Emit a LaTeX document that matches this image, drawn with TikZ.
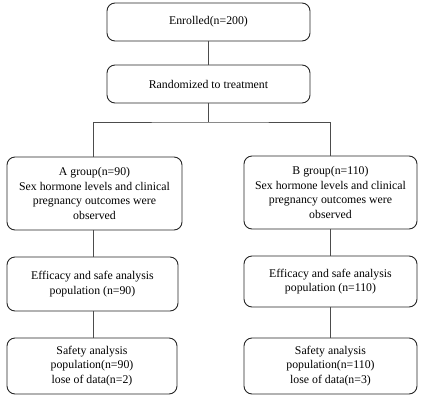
\documentclass[tikz,border=0pt]{standalone}
\usepackage{fontspec}
\setmainfont{Liberation Serif}
\begin{document}
\begin{tikzpicture}[x=1pt,y=-1pt,
  box/.style={draw=black!85, line width=0.9pt, rounded corners=8pt, align=center, inner sep=1pt,
    font=\fontsize{11.8}{14.8}\selectfont, text=black},
  conn/.style={draw=black!70, line width=0.8pt}]
\useasboundingbox (0,0) rectangle (421,400);
\node[box, minimum width=203pt, minimum height=38pt] (enr) at (208.5,22) {Enrolled(n=200)};
\node[box, minimum width=203pt, minimum height=38pt] (ran) at (208.5,84) {Randomized to treatment};
\node[box, minimum width=175pt, minimum height=73pt] (ga) at (94.5,193.5) {A group(n=90)\\Sex hormone levels and clinical\\pregnancy outcomes were\\observed};
\node[box, minimum width=173pt, minimum height=73pt] (gb) at (330.5,192.5) {B group(n=110)\\Sex hormone levels and clinical\\pregnancy outcomes were\\observed};
\node[box, minimum width=171pt, minimum height=54pt] (ea) at (92.5,284) {Efficacy and safe analysis\\population (n=90)};
\node[box, minimum width=173pt, minimum height=51pt] (eb) at (330.5,281.5) {Efficacy and safe analysis\\population (n=110)};
\node[box, minimum width=170pt, minimum height=56pt] (sa) at (92,366) {Safety analysis\\population(n=90)\\lose of data(n=2)};
\node[box, minimum width=173pt, minimum height=56pt] (sb) at (330.5,366) {Safety analysis\\population(n=110)\\lose of data(n=3)};
\coordinate (split) at (208.5,122);
\draw[conn] (enr.south) -- (ran.south |- ran.north);
\draw[conn] (ran.south) -- (split);
\draw[conn] ([xshift=-1.5pt]ga.north) |- (split) -| (gb.north);
\draw[conn] ([xshift=-1.5pt]ga.south) -- ([xshift=-1.5pt]ga.south |- ea.north);
\draw[conn] (gb.south) -- (gb.south |- eb.north);
\draw[conn] ([xshift=-1.5pt]ga.south |- ea.south) -- ([xshift=-1.5pt]ga.south |- sa.north);
\draw[conn] (eb.south) -- (sb.north);
\end{tikzpicture}
\end{document}
